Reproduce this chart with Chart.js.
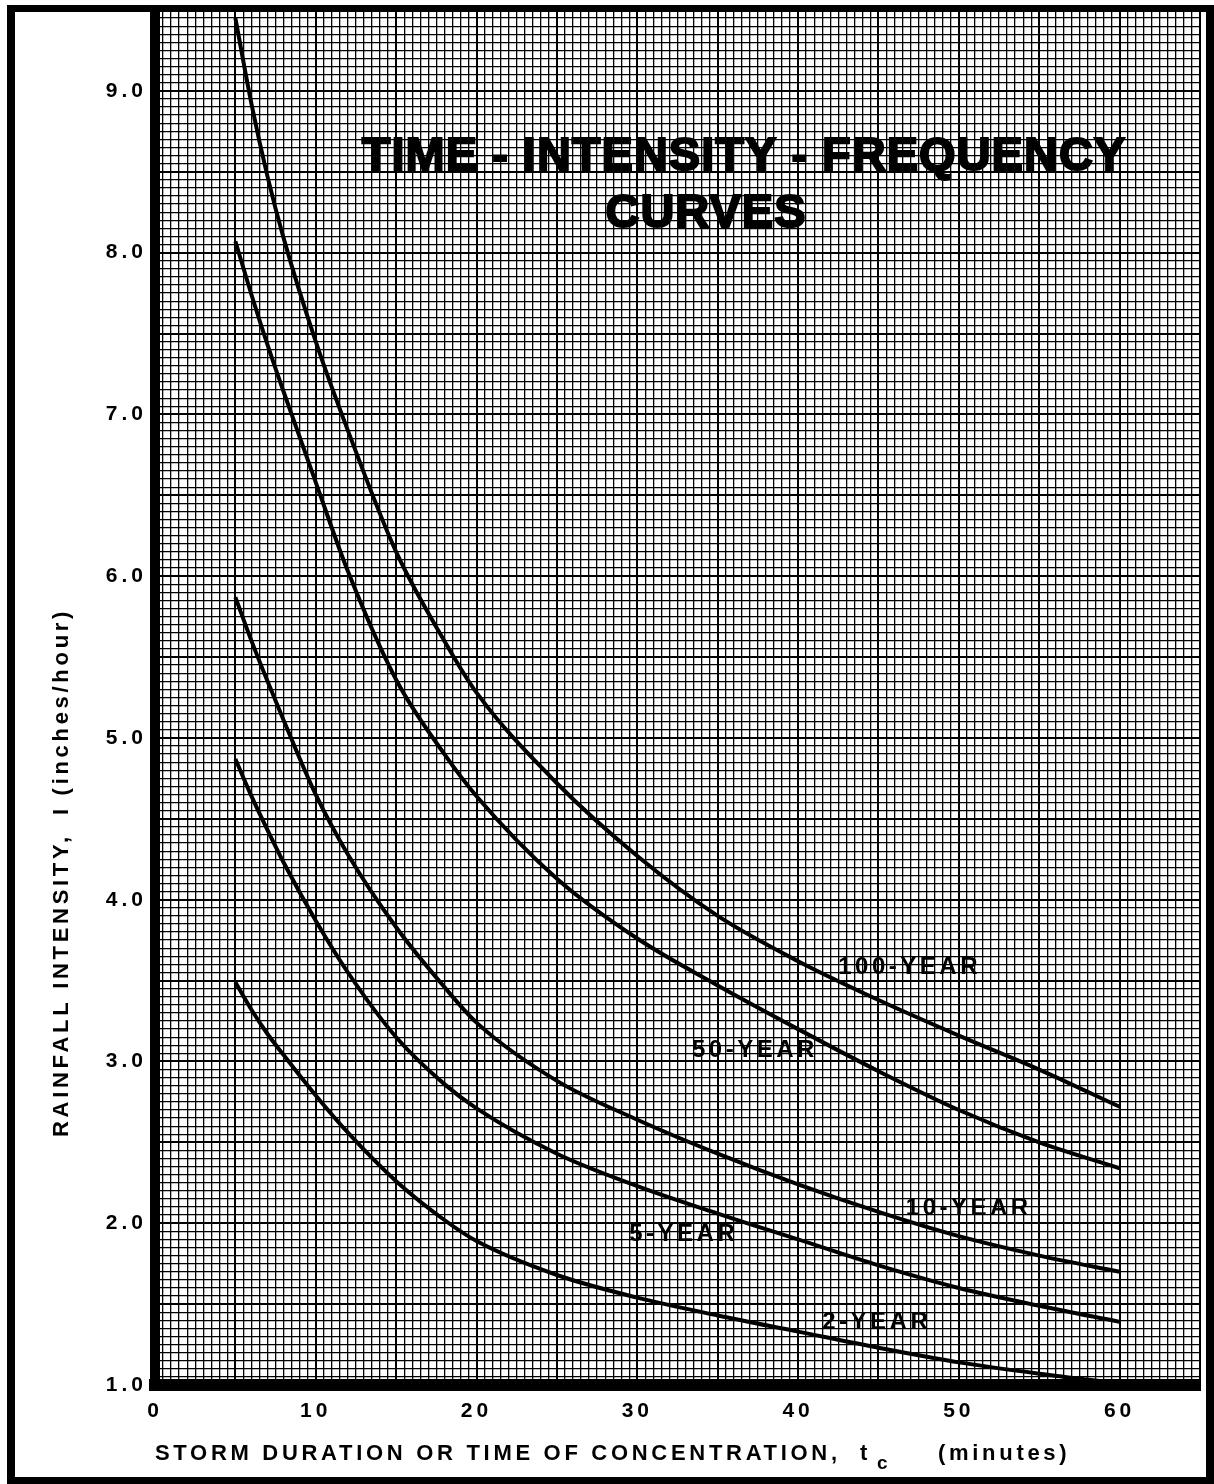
<!DOCTYPE html>
<html>
<head>
<meta charset="utf-8">
<title>Time - Intensity - Frequency Curves</title>
<script src="https://cdn.jsdelivr.net/npm/chart.js@4.4.1/dist/chart.umd.min.js"></script>
<style>
  html, body { margin: 0; padding: 0; background: #fff; }
  canvas { display: block; }
</style>
</head>
<body>
<canvas id="idf" width="1214" height="1484"></canvas>
<script>
// storm duration (minutes) where the curves were read
var durations = [5, 6, 7, 8, 10, 12, 15, 18, 20, 25, 30, 35, 40, 45, 50, 55, 60];

// rainfall intensity, inches/hour, one array per return period
var year100 = [9.45, 8.92, 8.47, 8.09, 7.45, 6.90, 6.15, 5.60, 5.28, 4.72, 4.27, 3.90, 3.62, 3.38, 3.16, 2.95, 2.72];
var year50  = [8.07, 7.74, 7.43, 7.14, 6.58, 6.03, 5.36, 4.90, 4.64, 4.13, 3.76, 3.47, 3.20, 2.94, 2.70, 2.50, 2.34];
var year10  = [5.87, 5.60, 5.35, 5.11, 4.65, 4.28, 3.83, 3.46, 3.24, 2.88, 2.64, 2.43, 2.24, 2.07, 1.92, 1.80, 1.70];
var year5   = [4.87, 4.64, 4.43, 4.23, 3.87, 3.55, 3.15, 2.86, 2.71, 2.43, 2.23, 2.06, 1.90, 1.74, 1.60, 1.49, 1.39];
var year2   = [3.49, 3.32, 3.17, 3.04, 2.79, 2.56, 2.26, 2.02, 1.89, 1.68, 1.54, 1.43, 1.33, 1.23, 1.14, 1.07, 1.01];

var curveNames = ['100-YEAR', '50-YEAR', '10-YEAR', '5-YEAR', '2-YEAR'];
var xTickLabels = ['0', '10', '20', '30', '40', '50', '60'];
var yTickLabels = ['1.0', '2.0', '3.0', '4.0', '5.0', '6.0', '7.0', '8.0', '9.0'];

var titleLines = ['TIME - INTENSITY - FREQUENCY', 'CURVES'];
var xTitle = ['STORM DURATION OR TIME OF CONCENTRATION,', 't', 'c', '(minutes)'];
var yTitle = ['RAINFALL INTENSITY,', 'I (inches/hour)'];

var FONT = '"Liberation Sans", Arial, sans-serif';

function onStep(v, step) {
    var n = v / step;
    return Math.abs(n - Math.round(n)) < 1e-6;
}

// paper grid: fine lines every cell, heavier every 10 cells
function gridWidth(step) {
    return function (c) {
        if (!c.tick) return 1.3;
        return onStep(c.tick.value, step) ? 2 : 1.3;
    };
}

var paperText = {
    id: 'paperText',
    beforeDraw: function (chart) {
        chart.ctx.letterSpacing = '4px';
    },
    afterDatasetsDraw: function (chart, args, opts) {
        var ctx = chart.ctx, xs = chart.scales.x, ys = chart.scales.y;
        ctx.save();
        ctx.fillStyle = '#000';
        ctx.strokeStyle = '#000';
        ctx.textBaseline = 'middle';

        ctx.font = 'bold 24px ' + FONT;
        ctx.letterSpacing = '3.5px';
        ctx.textAlign = 'left';
        curveNames.forEach(function (name, i) {
            var p = opts.labelAt[i];
            ctx.fillText(name, xs.getPixelForValue(p[0]), ys.getPixelForValue(p[1]));
        });

        ctx.font = 'bold 47px ' + FONT;
        ctx.letterSpacing = '1px';
        ctx.textAlign = 'center';
        ctx.lineWidth = 2;
        titleLines.forEach(function (t, i) {
            var p = opts.titleAt[i];
            ctx.fillText(t, p[0], p[1]);
            ctx.strokeText(t, p[0], p[1]);
        });
        ctx.restore();
    },
    afterDraw: function (chart, args, opts) {
        var ctx = chart.ctx;
        ctx.save();
        ctx.fillStyle = '#000';
        // outer frame and the top / right edges of the plot
        ctx.fillRect(7, 5, 1207, 7);
        ctx.fillRect(7, 5, 8, 1479);
        ctx.fillRect(7, 1477, 1207, 7);
        ctx.fillRect(1206, 5, 8, 1479);

        ctx.textBaseline = 'middle';
        ctx.textAlign = 'left';
        ctx.letterSpacing = '3.7px';
        ctx.font = 'bold 22px ' + FONT;
        var xt = opts.xTitleAt;
        ctx.fillText(xTitle[0], xt[0], xt[4]);
        ctx.fillText(xTitle[1], xt[1], xt[4]);
        ctx.fillText(xTitle[3], xt[3], xt[4]);
        ctx.font = 'bold 19px ' + FONT;
        ctx.fillText(xTitle[2], xt[2], xt[4] + 10);

        ctx.font = 'bold 22px ' + FONT;
        var yt = opts.yTitleAt;
        ctx.translate(yt[0], 0);
        ctx.rotate(-Math.PI / 2);
        ctx.fillText(yTitle[0], -yt[1], 0);
        ctx.fillText(yTitle[1], -yt[2], 0);
        ctx.restore();
        ctx.letterSpacing = '0px';
    }
};

function series(values) {
    return {
        data: values,
        borderColor: '#000',
        borderWidth: 4,
        pointRadius: 0,
        fill: false,
        cubicInterpolationMode: 'monotone'
    };
}

new Chart(document.getElementById('idf'), {
    type: 'line',
    data: {
        labels: durations,
        datasets: [series(year100), series(year50), series(year10), series(year5), series(year2)]
    },
    plugins: [paperText],
    options: {
        responsive: false,
        animation: false,
        events: [],
        layout: { padding: { top: 10, right: 8, bottom: 0, left: 0 } },
        plugins: {
            legend: { display: false },
            tooltip: { enabled: false },
            paperText: {
                labelAt: [[42.5, 3.58], [33.4, 3.07], [46.7, 2.09], [29.5, 1.93], [41.5, 1.39]],
                titleAt: [[744, 157], [706, 214]],
                xTitleAt: [155, 860, 877, 938, 1454],
                yTitleAt: [62, 1137, 815]
            }
        },
        scales: {
            x: {
                type: 'linear',
                min: 0,
                max: 65,
                afterFit: function (s) { s.height = 99; },
                grid: { color: '#000', lineWidth: gridWidth(5), drawTicks: false },
                border: { display: true, color: '#000', width: 12 },
                ticks: {
                    stepSize: 0.5,
                    autoSkip: false,
                    maxRotation: 0,
                    padding: 14,
                    color: '#000',
                    font: { family: FONT, weight: 'bold', size: 21 },
                    callback: function (v) {
                        var s = String(Math.round(v));
                        return onStep(v, 1) && xTickLabels.indexOf(s) >= 0 ? s : '';
                    }
                }
            },
            y: {
                min: 1,
                max: 9.5,
                afterFit: function (s) { s.width = 155; s.paddingTop = 0; s.paddingBottom = 0; },
                grid: { color: '#000', lineWidth: gridWidth(0.5), drawTicks: false },
                border: { display: true, color: '#000', width: 10 },
                ticks: {
                    stepSize: 0.05,
                    autoSkip: false,
                    padding: 8,
                    color: '#000',
                    font: { family: FONT, weight: 'bold', size: 21 },
                    callback: function (v) {
                        var s = Number(v).toFixed(1);
                        return onStep(v, 1) && yTickLabels.indexOf(s) >= 0 ? s : '';
                    }
                }
            }
        }
    }
});
</script>
</body>
</html>
